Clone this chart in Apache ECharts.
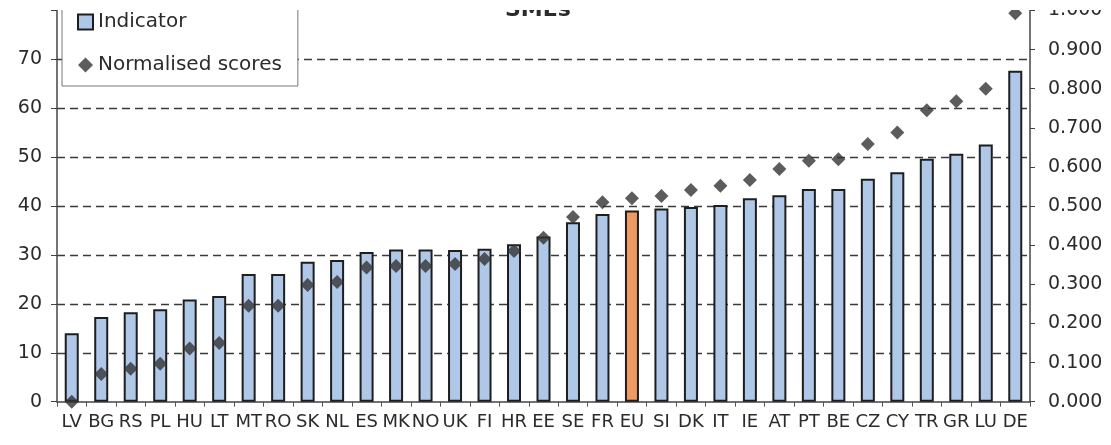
<!DOCTYPE html>
<html><head><meta charset="utf-8">
<script src="https://cdn.jsdelivr.net/npm/echarts@6/dist/echarts.min.js"></script>
<style>
html,body{margin:0;padding:0;background:#fff;width:1111px;height:445px;overflow:hidden}
#wrap{position:absolute;left:0;top:10px;width:1111px;height:435px;overflow:hidden;background:#fff}
#chart{position:absolute;left:0;top:-30px;width:1111px;height:465px}
</style></head><body><div id="wrap"><div id="chart"></div></div>
<script>
const titleText = 'SMEs';
const categories = ['LV','BG','RS','PL','HU','LT','MT','RO','SK','NL','ES','MK','NO','UK','FI','HR','EE','SE','FR','EU','SI','DK','IT','IE','AT','PT','BE','CZ','CY','TR','GR','LU','DE'];
const indicatorValues = [14.0,17.3,18.3,18.9,20.9,21.6,26.1,26.1,28.6,29.0,30.6,31.1,31.1,31.0,31.3,32.2,33.8,36.7,38.4,39.1,39.5,39.8,40.2,41.6,42.2,43.5,43.5,45.6,46.9,49.7,50.7,52.6,67.7];
const normalisedScores = [0.000,0.071,0.084,0.097,0.136,0.150,0.245,0.245,0.298,0.306,0.343,0.347,0.347,0.352,0.365,0.385,0.419,0.472,0.510,0.520,0.526,0.541,0.552,0.567,0.595,0.616,0.620,0.659,0.688,0.745,0.768,0.800,0.993];
const leftAxisRange = [0, 80, 10];
const rightAxisRange = [0, 1, 0.1];
const highlightCategory = 'EU';

const font = 'DejaVu Sans';
const txt = '#2b2b2b';
const barColor = '#b0c8e8';
const euColor = '#ef9a62';
const markColor = '#333333';

const chart = echarts.init(document.getElementById('chart'), null, {renderer: 'canvas'});
chart.setOption({
  animation: false,
  backgroundColor: '#fff',
  title: {
    text: titleText, left: 505, top: 19, padding: 0,
    textStyle: {fontFamily: font, fontSize: 22, fontWeight: 'bold', color: txt}
  },
  legend: {
    orient: 'vertical', left: 62, top: 20,
    padding: [12, 16, 11, 15],
    itemGap: 23, itemWidth: 15, itemHeight: 15,
    backgroundColor: '#fff', borderColor: '#777', borderWidth: 1,
    textStyle: {fontFamily: font, fontSize: 20, color: txt, lineHeight: 20},
    data: [
      {name: 'Indicator', icon: 'rect'},
      {name: 'Normalised scores', icon: 'diamond', itemStyle: {color: markColor}}
    ]
  },
  grid: {left: 57, right: 81, top: 30.5, bottom: 43.3, containLabel: false},
  xAxis: {
    type: 'category', data: categories,
    axisLine: {lineStyle: {color: '#444', width: 1.5}},
    axisTick: {show: true, length: 5, lineStyle: {color: '#555', width: 1}},
    axisLabel: {interval: 0, margin: 12, fontFamily: font, fontSize: 18, color: txt}
  },
  yAxis: [
    {
      type: 'value', min: leftAxisRange[0], max: leftAxisRange[1], interval: leftAxisRange[2],
      axisLine: {show: true, lineStyle: {color: '#444', width: 1.5}},
      axisTick: {show: true, length: 6, lineStyle: {color: '#444', width: 1}},
      axisLabel: {margin: 15, fontFamily: font, fontSize: 19, color: txt,
        formatter: v => (v === leftAxisRange[1] ? '' : String(v))},
      splitLine: {show: true, showMaxLine: false, showMinLine: false,
        lineStyle: {color: '#3a3a3a', width: 1.3, type: [8, 5]}}
    },
    {
      type: 'value', position: 'right', min: rightAxisRange[0], max: rightAxisRange[1], interval: rightAxisRange[2],
      axisLine: {show: true, lineStyle: {color: '#444', width: 1.5}},
      axisTick: {show: true, length: 5, lineStyle: {color: '#444', width: 1}},
      axisLabel: {margin: 18, fontFamily: font, fontSize: 19, color: txt,
        formatter: v => v.toFixed(3)},
      splitLine: {show: false}
    }
  ],
  series: [
    {
      name: 'Indicator', type: 'bar', yAxisIndex: 0, barWidth: 14,
      itemStyle: {color: barColor, borderColor: '#1e1e1e', borderWidth: 2},
      data: indicatorValues.map((v, i) => categories[i] === highlightCategory
        ? {value: v, itemStyle: {color: euColor}} : v)
    },
    {
      name: 'Normalised scores', type: 'scatter', yAxisIndex: 1, symbol: 'diamond', symbolSize: 14,
      clip: false, z: 5,
      itemStyle: {color: markColor},
      data: normalisedScores
    }
  ]
});
</script></body></html>
